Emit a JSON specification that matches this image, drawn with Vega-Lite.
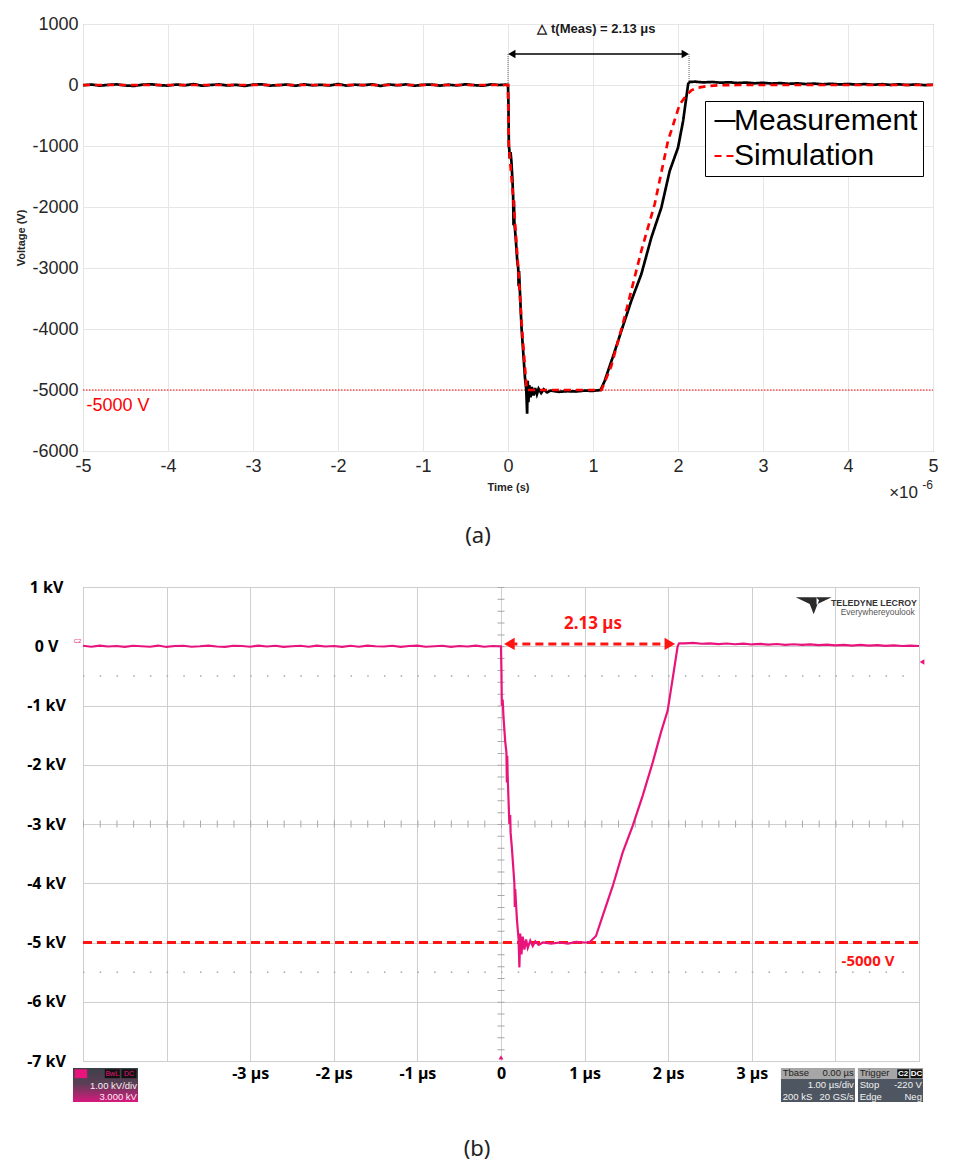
{
  "$schema": "https://vega.github.io/schema/vega-lite/v6.json",
  "background": "white",
  "padding": {"left": 15, "top": 14, "right": 5, "bottom": 5},
  "spacing": 30,
  "datasets": {
    "a": [
      {"t": -5.0, "v": -5, "s": "Measurement"}, {"t": -4.9, "v": 8, "s": "Measurement"}, {"t": -4.8, "v": -12, "s": "Measurement"}, {"t": -4.7, "v": 3, "s": "Measurement"},
      {"t": -4.6, "v": 10, "s": "Measurement"}, {"t": -4.5, "v": -8, "s": "Measurement"}, {"t": -4.4, "v": -15, "s": "Measurement"}, {"t": -4.3, "v": 5, "s": "Measurement"},
      {"t": -4.2, "v": 12, "s": "Measurement"}, {"t": -4.1, "v": -3, "s": "Measurement"}, {"t": -4.0, "v": -10, "s": "Measurement"}, {"t": -3.9, "v": 8, "s": "Measurement"},
      {"t": -3.8, "v": -5, "s": "Measurement"}, {"t": -3.7, "v": 15, "s": "Measurement"}, {"t": -3.6, "v": -12, "s": "Measurement"}, {"t": -3.5, "v": 0, "s": "Measurement"},
      {"t": -3.4, "v": 10, "s": "Measurement"}, {"t": -3.3, "v": -8, "s": "Measurement"}, {"t": -3.2, "v": 3, "s": "Measurement"}, {"t": -3.1, "v": -15, "s": "Measurement"},
      {"t": -3.0, "v": 5, "s": "Measurement"}, {"t": -2.9, "v": 12, "s": "Measurement"}, {"t": -2.8, "v": -10, "s": "Measurement"}, {"t": -2.7, "v": -3, "s": "Measurement"},
      {"t": -2.6, "v": 8, "s": "Measurement"}, {"t": -2.5, "v": -12, "s": "Measurement"}, {"t": -2.4, "v": 10, "s": "Measurement"}, {"t": -2.3, "v": -5, "s": "Measurement"},
      {"t": -2.2, "v": 3, "s": "Measurement"}, {"t": -2.1, "v": -8, "s": "Measurement"}, {"t": -2.0, "v": 15, "s": "Measurement"}, {"t": -1.9, "v": -10, "s": "Measurement"},
      {"t": -1.8, "v": 5, "s": "Measurement"}, {"t": -1.7, "v": -3, "s": "Measurement"}, {"t": -1.6, "v": 12, "s": "Measurement"}, {"t": -1.5, "v": -15, "s": "Measurement"},
      {"t": -1.4, "v": 8, "s": "Measurement"}, {"t": -1.3, "v": -5, "s": "Measurement"}, {"t": -1.2, "v": 10, "s": "Measurement"}, {"t": -1.1, "v": -12, "s": "Measurement"},
      {"t": -1.0, "v": 3, "s": "Measurement"}, {"t": -0.9, "v": 8, "s": "Measurement"}, {"t": -0.8, "v": -10, "s": "Measurement"}, {"t": -0.7, "v": 5, "s": "Measurement"},
      {"t": -0.6, "v": -8, "s": "Measurement"}, {"t": -0.5, "v": 12, "s": "Measurement"}, {"t": -0.4, "v": -3, "s": "Measurement"}, {"t": -0.3, "v": -12, "s": "Measurement"},
      {"t": -0.2, "v": 10, "s": "Measurement"}, {"t": -0.1, "v": 0, "s": "Measurement"}, {"t": -0.03, "v": 5, "s": "Measurement"}, {"t": 0.0, "v": 0, "s": "Measurement"},
      {"t": 0.005, "v": -300, "s": "Measurement"}, {"t": 0.01, "v": -1000, "s": "Measurement"}, {"t": 0.015, "v": -1050, "s": "Measurement"}, {"t": 0.02, "v": -1200, "s": "Measurement"},
      {"t": 0.03, "v": -1100, "s": "Measurement"}, {"t": 0.04, "v": -1250, "s": "Measurement"}, {"t": 0.05, "v": -1500, "s": "Measurement"}, {"t": 0.06, "v": -1800, "s": "Measurement"},
      {"t": 0.065, "v": -2300, "s": "Measurement"}, {"t": 0.07, "v": -1900, "s": "Measurement"}, {"t": 0.075, "v": -2250, "s": "Measurement"}, {"t": 0.09, "v": -2500, "s": "Measurement"},
      {"t": 0.11, "v": -2900, "s": "Measurement"}, {"t": 0.12, "v": -3000, "s": "Measurement"}, {"t": 0.125, "v": -3300, "s": "Measurement"}, {"t": 0.13, "v": -3050, "s": "Measurement"},
      {"t": 0.15, "v": -3700, "s": "Measurement"}, {"t": 0.16, "v": -4000, "s": "Measurement"}, {"t": 0.18, "v": -4400, "s": "Measurement"}, {"t": 0.2, "v": -4800, "s": "Measurement"},
      {"t": 0.215, "v": -5000, "s": "Measurement"}, {"t": 0.225, "v": -5390, "s": "Measurement"}, {"t": 0.232, "v": -4850, "s": "Measurement"}, {"t": 0.24, "v": -5200, "s": "Measurement"},
      {"t": 0.25, "v": -4920, "s": "Measurement"}, {"t": 0.265, "v": -5120, "s": "Measurement"}, {"t": 0.28, "v": -4950, "s": "Measurement"}, {"t": 0.3, "v": -5090, "s": "Measurement"},
      {"t": 0.32, "v": -4970, "s": "Measurement"}, {"t": 0.34, "v": -5070, "s": "Measurement"}, {"t": 0.36, "v": -4980, "s": "Measurement"}, {"t": 0.39, "v": -5050, "s": "Measurement"},
      {"t": 0.42, "v": -4990, "s": "Measurement"}, {"t": 0.46, "v": -5040, "s": "Measurement"}, {"t": 0.5, "v": -5010, "s": "Measurement"}, {"t": 0.6, "v": -5030, "s": "Measurement"},
      {"t": 0.7, "v": -5020, "s": "Measurement"}, {"t": 0.8, "v": -5025, "s": "Measurement"}, {"t": 0.9, "v": -5010, "s": "Measurement"}, {"t": 1.0, "v": -5015, "s": "Measurement"},
      {"t": 1.09, "v": -5000, "s": "Measurement"}, {"t": 1.137, "v": -4852, "s": "Measurement"}, {"t": 1.25, "v": -4390, "s": "Measurement"}, {"t": 1.333, "v": -4033, "s": "Measurement"},
      {"t": 1.45, "v": -3541, "s": "Measurement"}, {"t": 1.568, "v": -3103, "s": "Measurement"}, {"t": 1.686, "v": -2503, "s": "Measurement"}, {"t": 1.804, "v": -2011, "s": "Measurement"},
      {"t": 1.902, "v": -1410, "s": "Measurement"}, {"t": 2.0, "v": -1028, "s": "Measurement"}, {"t": 2.06, "v": -590, "s": "Measurement"}, {"t": 2.12, "v": 20, "s": "Measurement"},
      {"t": 2.14, "v": 50, "s": "Measurement"}, {"t": 2.2, "v": 55, "s": "Measurement"}, {"t": 2.3, "v": 42, "s": "Measurement"}, {"t": 2.4, "v": 50, "s": "Measurement"},
      {"t": 2.5, "v": 38, "s": "Measurement"}, {"t": 2.6, "v": 45, "s": "Measurement"}, {"t": 2.7, "v": 33, "s": "Measurement"}, {"t": 2.8, "v": 40, "s": "Measurement"},
      {"t": 2.9, "v": 28, "s": "Measurement"}, {"t": 3.0, "v": 36, "s": "Measurement"}, {"t": 3.1, "v": 24, "s": "Measurement"}, {"t": 3.2, "v": 31, "s": "Measurement"},
      {"t": 3.3, "v": 20, "s": "Measurement"}, {"t": 3.4, "v": 27, "s": "Measurement"}, {"t": 3.5, "v": 16, "s": "Measurement"}, {"t": 3.6, "v": 23, "s": "Measurement"},
      {"t": 3.7, "v": 12, "s": "Measurement"}, {"t": 3.8, "v": 20, "s": "Measurement"}, {"t": 3.9, "v": 9, "s": "Measurement"}, {"t": 4.0, "v": 17, "s": "Measurement"},
      {"t": 4.1, "v": 6, "s": "Measurement"}, {"t": 4.2, "v": 15, "s": "Measurement"}, {"t": 4.3, "v": 4, "s": "Measurement"}, {"t": 4.4, "v": 13, "s": "Measurement"},
      {"t": 4.5, "v": 2, "s": "Measurement"}, {"t": 4.6, "v": 11, "s": "Measurement"}, {"t": 4.7, "v": 0, "s": "Measurement"}, {"t": 4.8, "v": 9, "s": "Measurement"},
      {"t": 4.9, "v": -2, "s": "Measurement"}, {"t": 5.0, "v": 5, "s": "Measurement"},
      {"t": -5.0, "v": 0, "s": "Simulation"}, {"t": 0.0, "v": 0, "s": "Simulation"}, {"t": 0.01, "v": -1000, "s": "Simulation"}, {"t": 0.07, "v": -2000, "s": "Simulation"},
      {"t": 0.12, "v": -3000, "s": "Simulation"}, {"t": 0.165, "v": -4000, "s": "Simulation"}, {"t": 0.22, "v": -5000, "s": "Simulation"}, {"t": 1.1, "v": -5000, "s": "Simulation"},
      {"t": 1.215, "v": -4607, "s": "Simulation"}, {"t": 1.373, "v": -3800, "s": "Simulation"}, {"t": 1.568, "v": -2721, "s": "Simulation"}, {"t": 1.726, "v": -1951, "s": "Simulation"},
      {"t": 1.882, "v": -918, "s": "Simulation"}, {"t": 2.02, "v": -316, "s": "Simulation"}, {"t": 2.1, "v": -170, "s": "Simulation"}, {"t": 2.157, "v": -87, "s": "Simulation"},
      {"t": 2.235, "v": -44, "s": "Simulation"}, {"t": 2.35, "v": -15, "s": "Simulation"}, {"t": 2.5, "v": -5, "s": "Simulation"}, {"t": 2.7, "v": 0, "s": "Simulation"},
      {"t": 5.0, "v": 0, "s": "Simulation"}
    ],
    "b": [
      {"t": -5.0, "v": 0.008}, {"t": -4.9, "v": -0.008}, {"t": -4.8, "v": 0.012}, {"t": -4.7, "v": -0.004}, {"t": -4.6, "v": 0.004}, {"t": -4.5, "v": -0.012},
      {"t": -4.4, "v": 0.008}, {"t": -4.3, "v": 0.0}, {"t": -4.2, "v": -0.008}, {"t": -4.1, "v": 0.012}, {"t": -4.0, "v": -0.012}, {"t": -3.9, "v": 0.004},
      {"t": -3.8, "v": 0.008}, {"t": -3.7, "v": -0.008}, {"t": -3.6, "v": 0.0}, {"t": -3.5, "v": 0.012}, {"t": -3.4, "v": -0.004}, {"t": -3.3, "v": -0.012},
      {"t": -3.2, "v": 0.008}, {"t": -3.1, "v": 0.004}, {"t": -3.0, "v": -0.008}, {"t": -2.9, "v": 0.012}, {"t": -2.8, "v": -0.004}, {"t": -2.7, "v": 0.008},
      {"t": -2.6, "v": -0.012}, {"t": -2.5, "v": 0.0}, {"t": -2.4, "v": 0.008}, {"t": -2.3, "v": -0.008}, {"t": -2.2, "v": 0.012}, {"t": -2.1, "v": -0.004},
      {"t": -2.0, "v": 0.004}, {"t": -1.9, "v": -0.012}, {"t": -1.8, "v": 0.008}, {"t": -1.7, "v": -0.008}, {"t": -1.6, "v": 0.012}, {"t": -1.5, "v": 0.0},
      {"t": -1.4, "v": -0.004}, {"t": -1.3, "v": 0.008}, {"t": -1.2, "v": -0.012}, {"t": -1.1, "v": 0.004}, {"t": -1.0, "v": 0.012}, {"t": -0.9, "v": -0.008},
      {"t": -0.8, "v": 0.0}, {"t": -0.7, "v": 0.008}, {"t": -0.6, "v": -0.012}, {"t": -0.5, "v": 0.004}, {"t": -0.4, "v": -0.004}, {"t": -0.3, "v": 0.012},
      {"t": -0.2, "v": -0.008}, {"t": -0.1, "v": 0.004}, {"t": -0.02, "v": 0.0}, {"t": 0.0, "v": 0.0},
      {"t": 0.005, "v": -0.4}, {"t": 0.01, "v": -1.0}, {"t": 0.02, "v": -0.9}, {"t": 0.03, "v": -1.2}, {"t": 0.05, "v": -1.6}, {"t": 0.065, "v": -1.8},
      {"t": 0.07, "v": -2.3}, {"t": 0.075, "v": -1.85}, {"t": 0.08, "v": -2.2}, {"t": 0.1, "v": -3.0}, {"t": 0.11, "v": -2.85}, {"t": 0.115, "v": -3.15},
      {"t": 0.13, "v": -3.4}, {"t": 0.16, "v": -4.0}, {"t": 0.165, "v": -4.4}, {"t": 0.17, "v": -4.1}, {"t": 0.19, "v": -4.6}, {"t": 0.21, "v": -4.94},
      {"t": 0.22, "v": -5.42}, {"t": 0.23, "v": -4.85}, {"t": 0.245, "v": -5.2}, {"t": 0.26, "v": -4.9}, {"t": 0.28, "v": -5.12}, {"t": 0.3, "v": -4.95},
      {"t": 0.32, "v": -5.09}, {"t": 0.35, "v": -4.97}, {"t": 0.38, "v": -5.06}, {"t": 0.41, "v": -4.98}, {"t": 0.45, "v": -5.04}, {"t": 0.5, "v": -5.0},
      {"t": 0.6, "v": -5.02}, {"t": 0.7, "v": -5.0}, {"t": 0.8, "v": -5.02}, {"t": 0.9, "v": -4.99}, {"t": 1.0, "v": -5.0}, {"t": 1.057, "v": -5.0},
      {"t": 1.136, "v": -4.89}, {"t": 1.216, "v": -4.55}, {"t": 1.336, "v": -4.05}, {"t": 1.456, "v": -3.48}, {"t": 1.575, "v": -3.03}, {"t": 1.695, "v": -2.52},
      {"t": 1.815, "v": -1.96}, {"t": 1.914, "v": -1.45}, {"t": 1.993, "v": -1.09}, {"t": 2.053, "v": -0.55}, {"t": 2.113, "v": 0.0}, {"t": 2.13, "v": 0.05},
      {"t": 2.2, "v": 0.048}, {"t": 2.3, "v": 0.056}, {"t": 2.4, "v": 0.042}, {"t": 2.5, "v": 0.05}, {"t": 2.6, "v": 0.036}, {"t": 2.7, "v": 0.046},
      {"t": 2.8, "v": 0.034}, {"t": 2.9, "v": 0.044}, {"t": 3.0, "v": 0.03}, {"t": 3.1, "v": 0.04}, {"t": 3.2, "v": 0.028}, {"t": 3.3, "v": 0.038},
      {"t": 3.4, "v": 0.024}, {"t": 3.5, "v": 0.034}, {"t": 3.6, "v": 0.022}, {"t": 3.7, "v": 0.03}, {"t": 3.8, "v": 0.018}, {"t": 3.9, "v": 0.028},
      {"t": 4.0, "v": 0.016}, {"t": 4.1, "v": 0.024}, {"t": 4.2, "v": 0.012}, {"t": 4.3, "v": 0.022}, {"t": 4.4, "v": 0.01}, {"t": 4.5, "v": 0.018},
      {"t": 4.6, "v": 0.006}, {"t": 4.7, "v": 0.014}, {"t": 4.8, "v": 0.004}, {"t": 4.9, "v": 0.012}, {"t": 5.0, "v": 0.004}
    ]
  },
  "vconcat": [
    {
      "width": 850,
      "height": 427,
      "view": {"stroke": "#8c8c8c"},
      "title": {"text": "(a)", "orient": "bottom", "anchor": "middle", "offset": 25, "dx": -30, "font": "Noto Sans", "fontSize": 22, "fontWeight": "normal", "color": "#222222"},
      "encoding": {
        "x": {
          "field": "t", "type": "quantitative",
          "scale": {"domain": [-5, 5], "nice": false, "zero": false},
          "axis": {
            "values": [-5, -4, -3, -2, -1, 0, 1, 2, 3, 4, 5],
            "labelExpr": "'' + datum.value",
            "title": "Time (s)", "titleFont": "Liberation Sans", "titleFontSize": 11, "titleFontWeight": "bold", "titleColor": "#262626", "titlePadding": 6,
            "labelFont": "Liberation Sans", "labelFontSize": 18, "labelColor": "#262626", "labelPadding": 6, "labelFlush": false,
            "ticks": false, "domain": false, "grid": true, "gridColor": "#e6e6e6"
          }
        },
        "y": {
          "field": "v", "type": "quantitative",
          "scale": {"domain": [-6000, 1000], "nice": false, "zero": false},
          "axis": {
            "values": [-6000, -5000, -4000, -3000, -2000, -1000, 0, 1000],
            "labelExpr": "'' + datum.value",
            "title": "Voltage (V)", "titleFont": "Liberation Sans", "titleFontSize": 11, "titleFontWeight": "bold", "titleColor": "#262626", "titlePadding": 5,
            "labelFont": "Liberation Sans", "labelFontSize": 18, "labelColor": "#262626", "labelPadding": 5, "labelFlush": false,
            "ticks": false, "domain": false, "grid": true, "gridColor": "#e6e6e6"
          }
        }
      },
      "layer": [
        {
          "data": {"values": [{"t": -5, "t2": 5, "v": -5000}]},
          "mark": {"type": "rule", "color": "#ff0000", "strokeWidth": 1.2, "strokeDash": [1.5, 1.5]},
          "encoding": {"x2": {"field": "t2"}}
        },
        {
          "data": {"values": [{"t": 0, "v": 508, "v2": 20}, {"t": 2.13, "v": 508, "v2": 20}]},
          "mark": {"type": "rule", "color": "#666666", "strokeWidth": 1, "strokeDash": [1, 1]},
          "encoding": {"y2": {"field": "v2"}}
        },
        {
          "data": {"name": "a"},
          "mark": {"type": "line", "strokeWidth": 2.7},
          "encoding": {
            "color": {
              "field": "s", "type": "nominal",
              "scale": {"domain": ["Measurement", "Simulation"], "range": ["#000000", "#ff0000"]},
              "legend": {
                "title": null, "orient": "none", "legendX": 622, "legendY": 77,
                "strokeColor": "#000000", "fillColor": "white", "padding": 5, "rowPadding": 5,
                "labelFont": "Liberation Sans", "labelFontSize": 30, "labelColor": "#000000", "labelOffset": -6, "labelLimit": 300,
                "symbolType": "stroke", "symbolSize": 441, "symbolStrokeWidth": 2
              }
            },
            "strokeDash": {
              "field": "s", "type": "nominal",
              "scale": {"domain": ["Measurement", "Simulation"], "range": [[1, 0], [7, 5]]},
              "legend": {
                "title": null, "orient": "none", "legendX": 622, "legendY": 77,
                "strokeColor": "#000000", "fillColor": "white", "padding": 5, "rowPadding": 5,
                "labelFont": "Liberation Sans", "labelFontSize": 30, "labelColor": "#000000", "labelOffset": -6, "labelLimit": 300,
                "symbolType": "stroke", "symbolSize": 441, "symbolStrokeWidth": 2
              }
            }
          }
        },
        {
          "data": {"values": [{"t": 0.04, "t2": 2.09, "v": 508}]},
          "mark": {"type": "rule", "color": "#000000", "strokeWidth": 1.5},
          "encoding": {"x2": {"field": "t2"}}
        },
        {
          "data": {"values": [{"t": 0.045, "v": 508}]},
          "mark": {"type": "point", "shape": "triangle-left", "filled": true, "color": "#000000", "size": 70, "opacity": 1}
        },
        {
          "data": {"values": [{"t": 2.085, "v": 508}]},
          "mark": {"type": "point", "shape": "triangle-right", "filled": true, "color": "#000000", "size": 70, "opacity": 1}
        },
        {
          "data": {"values": [{"t": 1.04, "v": 918, "label": "△ t(Meas) = 2.13 μs"}]},
          "mark": {"type": "text", "font": "Liberation Sans", "fontSize": 13, "fontWeight": "bold", "color": "#1a1a1a", "align": "center", "baseline": "middle"},
          "encoding": {"text": {"field": "label"}}
        },
        {
          "data": {"values": [{"t": -4.96, "v": -5270, "label": "-5000 V"}]},
          "mark": {"type": "text", "font": "Liberation Sans", "fontSize": 18, "color": "#ff0000", "align": "left", "baseline": "middle"},
          "encoding": {"text": {"field": "label"}}
        },
        {
          "data": {"values": [{"t": 5, "v": -6689, "label": "×10"}]},
          "mark": {"type": "text", "font": "Liberation Sans", "fontSize": 17, "color": "#262626", "align": "right", "baseline": "middle", "dx": -15},
          "encoding": {"text": {"field": "label"}}
        },
        {
          "data": {"values": [{"t": 5, "v": -6689, "label": "-6"}]},
          "mark": {"type": "text", "font": "Liberation Sans", "fontSize": 12, "color": "#262626", "align": "right", "baseline": "middle", "dy": -8},
          "encoding": {"text": {"field": "label"}}
        }
      ]
    },
    {
      "width": 836,
      "height": 474,
      "view": {"stroke": "#bdbdbd"},
      "title": {"text": "(b)", "orient": "bottom", "anchor": "middle", "offset": 37, "dx": -24, "font": "Noto Sans", "fontSize": 22, "fontWeight": "normal", "color": "#222222"},
      "encoding": {
        "x": {
          "field": "t", "type": "quantitative",
          "scale": {"domain": [-5, 5], "nice": false, "zero": false},
          "axis": {
            "values": [-5, -4, -3, -2, -1, 0, 1, 2, 3, 4, 5],
            "labelExpr": "abs(datum.value) > 3 ? '' : datum.value == 0 ? '0' : datum.value + ' µs'",
            "title": null,
            "labelFont": "Noto Sans", "labelFontSize": 16, "labelFontWeight": "bold", "labelColor": "#000000", "labelPadding": 4, "labelFlush": false,
            "ticks": false, "domain": false, "grid": true, "gridColor": "#cfcfcf"
          }
        },
        "y": {
          "field": "v", "type": "quantitative",
          "scale": {"domain": [-7, 1], "nice": false, "zero": false},
          "axis": {
            "values": [-7, -6, -5, -4, -3, -2, -1, 0, 1],
            "labelExpr": "datum.value == 0 ? '0 V' : datum.value + ' kV'",
            "title": null,
            "labelFont": "Noto Sans", "labelFontSize": 16, "labelFontWeight": "bold", "labelColor": "#000000", "labelPadding": 37, "labelAlign": "center", "labelFlush": false,
            "ticks": false, "domain": false, "grid": true, "gridColor": "#cfcfcf"
          }
        }
      },
      "layer": [
        {
          "data": {"values": [{"t": -5, "t2": 5, "v": -3}]},
          "mark": {"type": "rule", "color": "#a8a8a8", "strokeWidth": 7, "strokeDash": [1, 15.72]},
          "encoding": {"x2": {"field": "t2"}}
        },
        {
          "data": {"values": [{"t": 0, "v": 1, "v2": -7}]},
          "mark": {"type": "rule", "color": "#a8a8a8", "strokeWidth": 7, "strokeDash": [1, 10.85]},
          "encoding": {"y2": {"field": "v2"}}
        },
        {
          "data": {"values": [{"t": -5, "t2": 5, "v": -0.5}, {"t": -5, "t2": 5, "v": -5.5}]},
          "mark": {"type": "rule", "color": "#a8a8a8", "strokeWidth": 1.5, "strokeDash": [1.5, 15.22]},
          "encoding": {"x2": {"field": "t2"}}
        },
        {
          "data": {"values": [{"t": -5, "t2": 5, "v": -5}]},
          "mark": {"type": "rule", "color": "#ff1414", "strokeWidth": 3, "strokeDash": [9, 5]},
          "encoding": {"x2": {"field": "t2"}}
        },
        {
          "data": {"name": "b"},
          "mark": {"type": "line", "color": "#e8147c", "strokeWidth": 2.2}
        },
        {
          "data": {"values": [{"t": 0.1, "t2": 2.02, "v": 0.04}]},
          "mark": {"type": "rule", "color": "#ff1414", "strokeWidth": 3, "strokeDash": [8, 5]},
          "encoding": {"x2": {"field": "t2"}}
        },
        {
          "data": {"values": [{"t": 0.1, "v": 0.04}]},
          "mark": {"type": "point", "shape": "triangle-left", "filled": true, "color": "#ff1414", "size": 150, "opacity": 1}
        },
        {
          "data": {"values": [{"t": 2.02, "v": 0.04}]},
          "mark": {"type": "point", "shape": "triangle-right", "filled": true, "color": "#ff1414", "size": 150, "opacity": 1}
        },
        {
          "data": {"values": [{"t": 1.1, "v": 0.38, "label": "2.13 µs"}]},
          "mark": {"type": "text", "font": "Noto Sans", "fontSize": 17, "fontWeight": "bold", "color": "#ff1414", "align": "center", "baseline": "middle"},
          "encoding": {"text": {"field": "label"}}
        },
        {
          "data": {"values": [{"t": 4.39, "v": -5.31, "label": "-5000 V"}]},
          "mark": {"type": "text", "font": "Noto Sans", "fontSize": 15, "fontWeight": "bold", "color": "#ff1414", "align": "center", "baseline": "middle"},
          "encoding": {"text": {"field": "label"}}
        },
        {
          "data": {"values": [{"t": 4.976, "v": 0.73, "label": "TELEDYNE LECROY"}]},
          "mark": {"type": "text", "font": "Liberation Sans", "fontSize": 8.8, "fontWeight": "bold", "color": "#333333", "align": "right", "baseline": "middle"},
          "encoding": {"text": {"field": "label"}}
        },
        {
          "data": {"values": [{"t": 4.95, "v": 0.575, "label": "Everywhereyoulook"}]},
          "mark": {"type": "text", "font": "Liberation Sans", "fontSize": 8.5, "color": "#555555", "align": "right", "baseline": "middle"},
          "encoding": {"text": {"field": "label"}}
        },
        {
          "data": {"values": [{"t": 3.74, "v": 0.69}]},
          "mark": {"type": "point", "shape": "M-1,-0.45L-0.16,-0.45L-0.16,-0.05Z M1,-0.45L0.16,-0.45L0.16,-0.05Z M-0.13,-0.45L0.13,-0.45L0.3,-0.28L0,0.5L-0.3,-0.28Z", "filled": true, "color": "#2b2b2b", "size": 1296, "opacity": 1}
        },
        {
          "data": {"values": [{"t": 5.036, "v": -0.266}]},
          "mark": {"type": "point", "shape": "triangle-left", "filled": true, "color": "#e8147c", "size": 30, "opacity": 1}
        },
        {
          "data": {"values": [{"t": 0, "v": -6.94}]},
          "mark": {"type": "point", "shape": "triangle-up", "filled": true, "color": "#e8147c", "size": 25, "opacity": 1}
        },
        {
          "data": {"values": [{"t": -5.02, "v": 0.09, "label": "C2"}]},
          "mark": {"type": "text", "font": "Liberation Sans", "fontSize": 6, "color": "#e8147c", "align": "right", "baseline": "middle"},
          "encoding": {"text": {"field": "label"}}
        },
        {
          "data": {"values": [{"t": -5.12, "t2": -4.342, "v": -7.118, "v2": -7.692}]},
          "mark": {"type": "rect", "fill": {"gradient": "linear", "x1": 0, "y1": 0, "x2": 0, "y2": 1, "stops": [{"offset": 0, "color": "#3d4049"}, {"offset": 0.45, "color": "#5a3f55"}, {"offset": 1, "color": "#d8187e"}]}},
          "encoding": {"x": {"field": "t"}, "x2": {"field": "t2"}, "y": {"field": "v"}, "y2": {"field": "v2"}}
        },
        {
          "data": {"values": [{"t": 3.349, "t2": 4.234, "v": -7.118, "v2": -7.692}, {"t": 4.27, "t2": 5.048, "v": -7.118, "v2": -7.692}]},
          "mark": {"type": "rect", "fill": "#4e5661"},
          "encoding": {"x": {"field": "t"}, "x2": {"field": "t2"}, "y": {"field": "v"}, "y2": {"field": "v2"}}
        },
        {
          "data": {"values": [{"t": 3.349, "t2": 4.234, "v": -7.118, "v2": -7.304}, {"t": 4.27, "t2": 5.048, "v": -7.118, "v2": -7.304}]},
          "mark": {"type": "rect", "fill": "#a6a6a6"},
          "encoding": {"x": {"field": "t"}, "x2": {"field": "t2"}, "y": {"field": "v"}, "y2": {"field": "v2"}}
        },
        {
          "data": {"values": [{"t": 4.74, "t2": 4.88, "v": -7.14, "v2": -7.29}, {"t": 4.9, "t2": 5.04, "v": -7.14, "v2": -7.29}, {"t": -4.74, "t2": -4.56, "v": -7.14, "v2": -7.29}, {"t": -4.54, "t2": -4.36, "v": -7.14, "v2": -7.29}]},
          "mark": {"type": "rect", "fill": "#111111"},
          "encoding": {"x": {"field": "t"}, "x2": {"field": "t2"}, "y": {"field": "v"}, "y2": {"field": "v2"}}
        },
        {
          "data": {"values": [{"t": -5.1, "t2": -4.95, "v": -7.14, "v2": -7.29}]},
          "mark": {"type": "rect", "fill": "#e8147c"},
          "encoding": {"x": {"field": "t"}, "x2": {"field": "t2"}, "y": {"field": "v"}, "y2": {"field": "v2"}}
        },
        {
          "data": {"values": [{"t": 4.81, "v": -7.215, "label": "C2"}, {"t": 4.97, "v": -7.215, "label": "DC"}]},
          "mark": {"type": "text", "font": "Liberation Sans", "fontSize": 8, "fontWeight": "bold", "color": "#ffffff", "align": "center", "baseline": "middle"},
          "encoding": {"text": {"field": "label"}}
        },
        {
          "data": {"values": [{"t": -4.65, "v": -7.215, "label": "BwL"}, {"t": -4.45, "v": -7.215, "label": "DC"}, {"t": -5.025, "v": -7.215, "label": "C2"}]},
          "mark": {"type": "text", "font": "Liberation Sans", "fontSize": 7, "color": "#e8147c", "align": "center", "baseline": "middle"},
          "encoding": {"text": {"field": "label"}}
        },
        {
          "data": {"values": [{"t": 3.37, "v": -7.21, "label": "Tbase"}, {"t": 4.29, "v": -7.21, "label": "Trigger"}]},
          "mark": {"type": "text", "font": "Liberation Sans", "fontSize": 9.5, "color": "#222222", "align": "left", "baseline": "middle"},
          "encoding": {"text": {"field": "label"}}
        },
        {
          "data": {"values": [{"t": 4.22, "v": -7.21, "label": "0.00 µs"}]},
          "mark": {"type": "text", "font": "Liberation Sans", "fontSize": 9.5, "color": "#222222", "align": "right", "baseline": "middle"},
          "encoding": {"text": {"field": "label"}}
        },
        {
          "data": {"values": [{"t": 3.37, "v": -7.6, "label": "200 kS"}, {"t": 4.29, "v": -7.405, "label": "Stop"}, {"t": 4.29, "v": -7.6, "label": "Edge"}]},
          "mark": {"type": "text", "font": "Liberation Sans", "fontSize": 9.5, "color": "#f2f2f2", "align": "left", "baseline": "middle"},
          "encoding": {"text": {"field": "label"}}
        },
        {
          "data": {"values": [
            {"t": 4.22, "v": -7.405, "label": "1.00 µs/div"}, {"t": 4.22, "v": -7.6, "label": "20 GS/s"},
            {"t": 5.035, "v": -7.405, "label": "-220 V"}, {"t": 5.035, "v": -7.6, "label": "Neg"},
            {"t": -4.355, "v": -7.415, "label": "1.00 kV/div"}, {"t": -4.355, "v": -7.605, "label": "3.000 kV"}
          ]},
          "mark": {"type": "text", "font": "Liberation Sans", "fontSize": 9.5, "color": "#f2f2f2", "align": "right", "baseline": "middle"},
          "encoding": {"text": {"field": "label"}}
        }
      ]
    }
  ]
}
